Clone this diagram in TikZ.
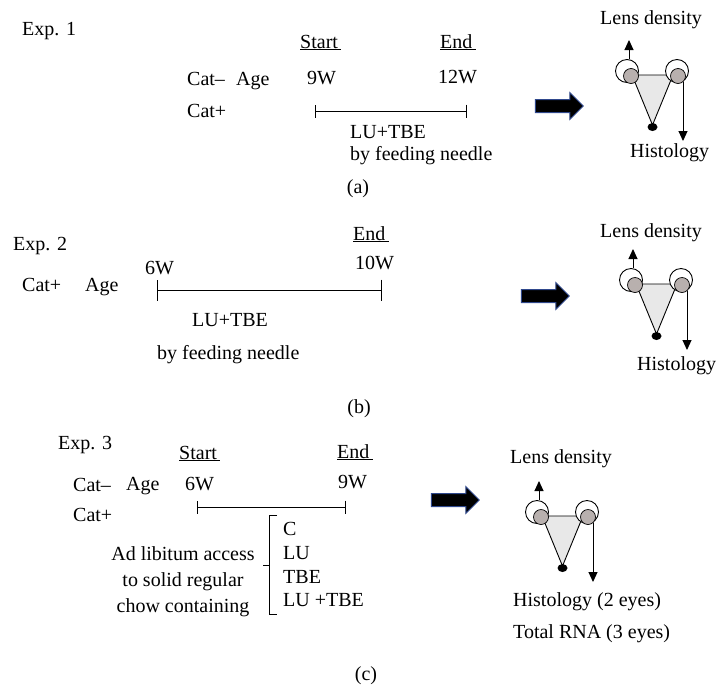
\documentclass[tikz,border=0pt]{standalone}
\usepackage{fontspec}
\setmainfont{Liberation Serif}
\usetikzlibrary{arrows.meta,shapes.arrows,shapes.geometric}

\definecolor{lensgray}{RGB}{184,176,174}
\definecolor{bodygray}{RGB}{232,232,232}
\definecolor{arrowedge}{RGB}{47,72,140}

\tikzset{every node/.style={inner sep=0pt},
  lbl/.style={anchor=west,text height=14pt,text depth=4pt,font=\fontsize{20}{24}\selectfont},
  sublbl/.style={lbl,anchor=center},
  eye/.style={circle,draw,fill=white,minimum size=23pt},
  lens/.style={circle,draw,fill=lensgray,minimum size=15pt},
  nose/.style={ellipse,fill=black,minimum width=10pt,minimum height=8pt},
  tl/.style={line width=1pt,{Bar[width=13pt]}-{Bar[width=13pt]}},
  bigarrow/.style={single arrow,draw=arrowedge,fill=black,line width=1pt,
    minimum height=48pt,single arrow head extend=7pt,inner sep=6pt},
  probe/.style={line width=1pt,-{Triangle[width=9pt,length=10pt]}}}

\begin{document}
\begin{tikzpicture}[x=1pt,y=-1pt]
  \useasboundingbox (0,0) rectangle (717,686);

  % Exp. 1
  \node[lbl] (exp1) at (22,30) {Exp. 1};
  \node[lbl] (a-start) at (300,43) {\underline{Start\,}};
  \node[lbl] (a-end) at (440,43) {\underline{End\,}};
  \node[lbl] (a-catm) at (187,80) {Cat--};
  \node[lbl] (a-age) at (236,80) {Age};
  \node[lbl] (a-begin) at (307,79) {9W};
  \node[lbl] (a-stop) at (438,78) {12W};
  \node[lbl] (a-catp) at (187,112) {Cat+};
  \coordinate (a-t0) at (315,111);
  \coordinate (a-t1) at (467,111);
  \draw[tl] (a-t0) -- (a-t1);
  \node[lbl] (a-drug) at (350,133) {LU+TBE};
  \node[lbl] (a-how) at (350,155) {by feeding needle};
  \node[sublbl] (a-cap) at (358,188) {(a)};
  \node[bigarrow] (a-arr) at (556,106) {};

  % Exp. 2
  \node[lbl] (exp2) at (13,245) {Exp. 2};
  \node[lbl] (b-end) at (353,235) {\underline{End\,}};
  \node[lbl] (b-catp) at (22,286) {Cat+};
  \node[lbl] (b-age) at (85,286) {Age};
  \node[lbl] (b-begin) at (145,269) {6W};
  \node[lbl] (b-stop) at (355,264) {10W};
  \coordinate (b-t0) at (157,290);
  \coordinate (b-t1) at (382,290);
  \draw[tl,{Bar[width=21pt]}-{Bar[width=21pt]}] (b-t0) -- (b-t1);
  \node[lbl] (b-drug) at (192,321) {LU+TBE};
  \node[lbl] (b-how) at (157,354) {by feeding needle};
  \node[sublbl] (b-cap) at (359,408) {(b)};
  \node[bigarrow] (b-arr) at (542,296) {};

  % Exp. 3
  \node[lbl] (exp3) at (58,444) {Exp. 3};
  \node[lbl] (c-start) at (179,454) {\underline{Start\,}};
  \node[lbl] (c-end) at (337,453) {\underline{End\,}};
  \node[lbl] (c-catm) at (73,486) {Cat--};
  \node[lbl] (c-age) at (126,485) {Age};
  \node[lbl] (c-begin) at (185,485) {6W};
  \node[lbl] (c-stop) at (338,483) {9W};
  \node[lbl] (c-catp) at (73,516) {Cat+};
  \coordinate (c-t0) at (197,507);
  \coordinate (c-t1) at (346,507);
  \draw[tl] (c-t0) -- (c-t1);
  \node[align=center,font=\fontsize{20}{26}\selectfont] (c-diet) at (183,582)
    {Ad libitum access\\to solid regular\\chow containing};
  \draw[line width=1pt] (277,515) -- (269,515) -- (269,614) -- (277,614)
    (269,565) -- (263,565);
  \node[lbl] (c-ctl) at (283,530) {C};
  \node[lbl] (c-lu) at (283,554) {LU};
  \node[lbl] (c-tbe) at (283,578) {TBE};
  \node[lbl] (c-both) at (283,601) {LU +TBE};
  \node[sublbl] (c-cap) at (366,675) {(c)};
  \node[bigarrow] (c-arr) at (452,500) {};

  % the two eyes on each head, with where they go
  \foreach \n/\x/\y in {a/627/71,b/631/280,c/537/512}{
    \begin{scope}[shift={(\x,\y)}]
      \filldraw[fill=bodygray,line width=0.9pt] (5,4) -- (46,4) -- (25.5,54) -- cycle;
      \node[nose] (\n-nose) at (25.5,56) {};
      \node[eye,line width=0.9pt] (\n-lo) at (0,0) {};
      \node[eye,line width=0.9pt] (\n-ro) at (50,0) {};
      \node[lens,line width=0.7pt] (\n-li) at (4,5) {};
      \node[lens,line width=0.7pt] (\n-ri) at (51,5) {};
      \coordinate (\n-up) at (2,-31);
      \coordinate (\n-dn) at (56,70);
      \draw[probe] (\n-up |- \n-lo.north) -- (\n-up);
      \draw[probe] (\n-dn |- \n-ro.-62) -- (\n-dn);
    \end{scope}
  }

  \node[lbl] (a-dens) at (600,19) {Lens density};
  \node[lbl] (a-hist) at (630,152) {Histology};
  \node[lbl] (b-dens) at (600,232) {Lens density};
  \node[lbl] (b-hist) at (637,365) {Histology};
  \node[lbl] (c-dens) at (510,458) {Lens density};
  \node[lbl] (c-hist) at (513,601) {Histology (2 eyes)};
  \node[lbl] (c-rna) at (513,633) {Total RNA (3 eyes)};
\end{tikzpicture}
\end{document}
